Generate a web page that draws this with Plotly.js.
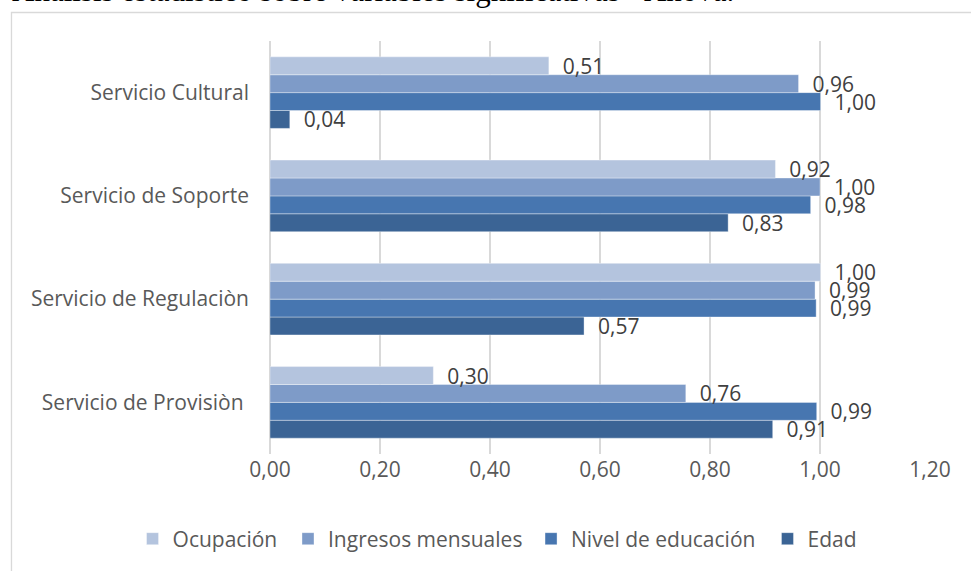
<!DOCTYPE html>
<html>
<head>
<meta charset="utf-8">
<script src="https://cdn.plot.ly/plotly-3.0.1.min.js"></script>
<style>html,body{margin:0;padding:0;background:#fff;}#chart{width:971px;height:571px;}</style>
</head>
<body>
<div id="chart"></div>
<script>
// Categories listed bottom to top
const categories = ["Servicio de Provisiòn ", "Servicio de Regulaciòn", "Servicio de Soporte", "Servicio Cultural"];
const edad = [0.914, 0.571, 0.833, 0.036];
const nivelEducacion = [0.994, 0.993, 0.983, 1.001];
const ingresosMensuales = [0.756, 0.991, 1.000, 0.961];
const ocupacion = [0.297, 1.001, 0.919, 0.507];
const seriesNames = ["Edad", "Nivel de educación", "Ingresos mensuales", "Ocupación"];
const xTickVals = [0, 0.2, 0.4, 0.6, 0.8, 1.0, 1.2];
const titleText = "Análisis estadístico sobre variables significativas - Anova.";

const colors = ["#3b6495", "#4776b0", "#7e9bc8", "#b4c4de"];
const seriesValues = [edad, nivelEducacion, ingresosMensuales, ocupacion];
const legendIds = ["legend4", "legend3", "legend2", "legend"];
const legendX = {legend: 0.1365, legend2: 0.2966, legend3: 0.5469, legend4: 0.7904};
const font = "'Open Sans', 'Noto Sans', sans-serif";

const traces = seriesValues.map((vals, i) => ({
  type: "bar",
  orientation: "h",
  name: seriesNames[i],
  legend: legendIds[i],
  y: categories,
  x: vals,
  marker: {color: colors[i], line: {color: "rgba(255,255,255,0.6)", width: 0.6}},
  texttemplate: "\u00A0\u00A0%{x:.2f}",
  textposition: "outside",
  constraintext: "none",
  cliponaxis: false,
  textfont: {family: font, size: 21, color: "#404040"},
  hoverinfo: "x+y+name"
}));

const layout = {
  width: 971, height: 571,
  margin: {l: 270, r: 41, t: 41, b: 117, autoexpand: false},
  paper_bgcolor: "#fff", plot_bgcolor: "#fff",
  separators: ",.",
  barmode: "group",
  bargap: 0.307,
  bargroupgap: 0,
  showlegend: true,
  xaxis: {
    range: [0, 1.2], tickvals: xTickVals, tickformat: ".2f",
    showgrid: true, gridcolor: "#d9d9d9", gridwidth: 1.5,
    zeroline: true, zerolinecolor: "#d9d9d9", zerolinewidth: 1.5,
    showline: false, ticks: "",
    ticklabelstandoff: 1,
    tickfont: {family: font, size: 21, color: "#595959"}
  },
  yaxis: {
    type: "category", categoryorder: "array", categoryarray: categories,
    showgrid: false, zeroline: false, showline: false, ticks: "",
    ticklabelstandoff: 20,
    tickfont: {family: font, size: 21, color: "#595959"}
  },
  shapes: [{
    type: "rect", xref: "paper", yref: "paper",
    x0: -0.3917, x1: 1.2, y0: -0.5, y1: 1.069,
    line: {color: "#d9d9d9", width: 1.3}, fillcolor: "rgba(0,0,0,0)", layer: "below"
  }],
  annotations: [{
    xref: "paper", yref: "paper", x: -0.394, y: 1.075,
    xanchor: "left", yanchor: "bottom", showarrow: false,
    text: titleText,
    font: {family: "'Liberation Serif', 'Times New Roman', serif", size: 31, color: "#000"}
  }]
};

Object.keys(legendX).forEach(id => {
  layout[id] = {
    orientation: "h",
    xref: "container", yref: "container",
    x: legendX[id], xanchor: "left",
    y: 0.056, yanchor: "middle",
    itemwidth: 30,
    bgcolor: "rgba(0,0,0,0)",
    font: {family: font, size: 21, color: "#595959"}
  };
});

Plotly.newPlot("chart", traces, layout, {displayModeBar: false, staticPlot: true});
</script>
</body>
</html>
